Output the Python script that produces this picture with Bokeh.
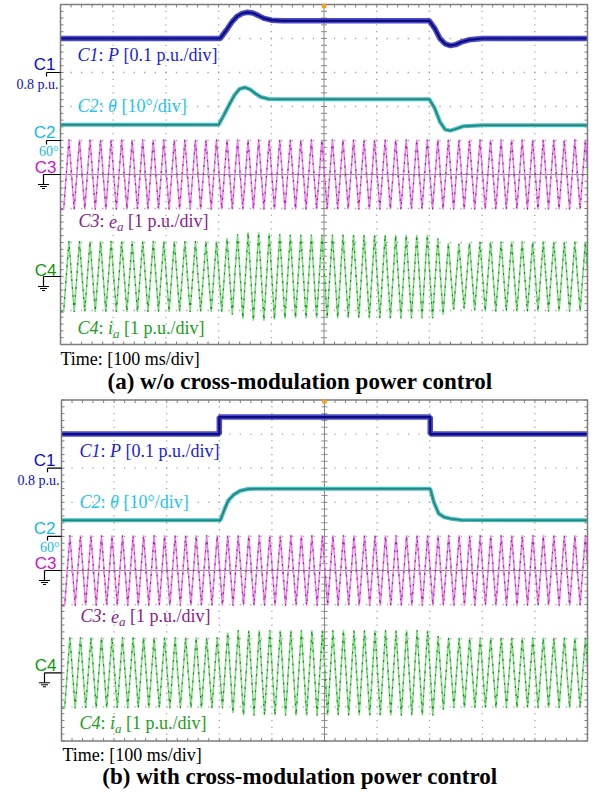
import numpy as np
from bokeh.plotting import figure
from bokeh.layouts import column
from bokeh.models import Label, Range1d
from bokeh.embed import file_html
from bokeh.resources import INLINE

# ---------------- data ----------------
GRID_T_MS = [0, 100, 200, 300, 400, 500, 600, 700, 800, 900, 1000]   # 100 ms/div
GRID_Y_DIV = [-5, -4, -3, -2, -1, 0, 1, 2, 3, 4, 5]                  # screen divisions
MINOR_PER_DIV = 5

C1_OFFSET, C1_REF, C1_SCALE = 3, 0.8, 0.1     # P: 0.8 p.u. at +3 div, 0.1 p.u./div
C2_OFFSET, C2_REF, C2_SCALE = 1, 60.0, 10.0   # theta: 60 deg at +1 div, 10 deg/div
C3_OFFSET, C3_SCALE = 0, 1.0                  # e_a: 1 p.u./div
C4_OFFSET, C4_SCALE = -3, 1.0                 # i_a: 1 p.u./div

AC_FIRST_PEAK_MS = 16
AC_PERIOD_MS = 20

# panel (a): w/o cross-modulation power control
a_P_t = [0, 303, 315, 325, 335, 345, 355, 365, 375, 385, 400, 420,
         700, 710, 720, 730, 740, 750, 760, 775, 800, 1000]
a_P = [0.900, 0.900, 0.925, 0.948, 0.965, 0.974, 0.977, 0.975, 0.968, 0.960, 0.954, 0.952,
       0.952, 0.930, 0.900, 0.884, 0.879, 0.882, 0.889, 0.896, 0.900, 0.900]
a_th_t = [0, 300, 310, 320, 330, 340, 350, 360, 370, 380, 395, 420,
          700, 710, 720, 730, 740, 750, 765, 800, 1000]
a_th = [64.6, 64.6, 67.5, 70.5, 73.3, 75.2, 75.6, 75.0, 73.8, 72.8, 72.2, 72.1,
        72.1, 69.5, 65.5, 63.2, 62.9, 63.4, 64.2, 64.5, 64.5]
a_ea_amp = [1.03, 1.03, 1.03, 1.03, 1.03, 1.03, 1.03, 1.03, 1.03, 1.03,
            1.03, 1.03, 1.03, 1.03, 1.03, 1.03, 1.03, 1.03, 1.03, 1.03,
            1.03, 1.03, 1.03, 1.03, 1.03, 1.03, 1.03, 1.03, 1.03, 1.03,
            1.03, 1.03, 1.03, 1.03, 1.03, 1.03, 1.03, 1.03, 1.03, 1.03,
            1.03, 1.03, 1.03, 1.03, 1.03, 1.03, 1.03, 1.03, 1.03, 1.03]
a_ia_amp = [1.04, 1.04, 1.04, 1.04, 1.04, 1.04, 1.04, 1.04, 1.04, 1.04,
            1.04, 1.04, 1.04, 1.04, 1.04, 1.12, 1.24, 1.30, 1.30, 1.27,
            1.24, 1.23, 1.23, 1.23, 1.23, 1.23, 1.23, 1.23, 1.23, 1.23,
            1.23, 1.23, 1.23, 1.23, 1.23, 1.12, 0.98, 0.96, 1.00, 1.03,
            1.03, 1.03, 1.03, 1.03, 1.03, 1.03, 1.03, 1.03, 1.03, 1.03]

# panel (b): with cross-modulation power control
b_P_t = [0, 300, 300, 701, 701, 1000]
b_P = [0.900, 0.900, 0.950, 0.950, 0.900, 0.900]
b_th_t = [0, 302, 310, 317, 328, 340, 355, 375, 701, 708, 717, 728, 740, 760, 1000]
b_th = [64.7, 64.7, 68.0, 70.5, 72.3, 73.4, 73.9, 74.0, 74.0, 70.0, 66.7, 65.6, 65.2, 64.8, 64.7]
b_ea_amp = [1.03, 1.03, 1.03, 1.03, 1.03, 1.03, 1.03, 1.03, 1.03, 1.03,
            1.03, 1.03, 1.03, 1.03, 1.03, 1.03, 1.03, 1.03, 1.03, 1.03,
            1.03, 1.03, 1.03, 1.03, 1.03, 1.03, 1.03, 1.03, 1.03, 1.03,
            1.03, 1.03, 1.03, 1.03, 1.03, 1.03, 1.03, 1.03, 1.03, 1.03,
            1.03, 1.03, 1.03, 1.03, 1.03, 1.03, 1.03, 1.03, 1.03, 1.03]
b_ia_amp = [1.04, 1.04, 1.04, 1.04, 1.04, 1.04, 1.04, 1.04, 1.04, 1.04,
            1.04, 1.04, 1.04, 1.04, 1.04, 1.18, 1.25, 1.25, 1.25, 1.25,
            1.25, 1.25, 1.25, 1.25, 1.25, 1.25, 1.25, 1.25, 1.25, 1.25,
            1.25, 1.25, 1.25, 1.25, 1.25, 1.08, 1.03, 1.03, 1.03, 1.03,
            1.03, 1.03, 1.03, 1.03, 1.03, 1.03, 1.03, 1.03, 1.03, 1.03]

# ---------------- styling ----------------
SERIF = "Liberation Serif"
SANS = "Liberation Sans"
COL_C1, COL_C1_TXT = "#0c0cc4", "#1c1cdc"
COL_C2, COL_C2_TXT = "#18b8e4", "#26c4ee"
COL_C3, COL_C3_TXT = "#cc12cc", "#8c1c8c"
COL_C4, COL_C4_TXT = "#0a980a", "#20a020"
GRID_COL = "#a4a4a4"
FRAME_COL = "#7c7c7c"
BASELINE_FIX = 0.29   # em; compensates where the renderer puts the alphabetic baseline

W = 597
H_PANEL = 396

TNR_R = {' ': 250, '(': 333, ')': 333, '-': 333, '.': 250, '/': 278, ':': 278, '[': 333,
         ']': 333, '°': 400, 'a': 444, 'b': 500, 'c': 444, 'd': 500, 'e': 444, 'i': 278,
         'l': 278, 'm': 778, 'n': 500, 'o': 500, 'p': 500, 'r': 333, 's': 389, 't': 278,
         'u': 500, 'v': 500, 'w': 722, 'C': 667, 'P': 556, 'T': 611}
TNR_I = {'C': 667, 'P': 611, 'e': 444, 'i': 278, 'a': 500, 'θ': 500}


def text_width(s, size, italic=False):
    tab = TNR_I if italic else TNR_R
    return sum(tab.get(ch, TNR_R.get(ch, 500)) for ch in s) * size / 1000.0


class Pan:
    def __init__(self, x0, sx, y0, sy):
        self.x0, self.sx, self.y0, self.sy = x0, sx, y0, sy

    def tx(self, px):
        return (px - self.x0) / self.sx

    def ty(self, py):
        return (self.y0 - py) / self.sy


def ac_path(amps, offset, scale):
    ts = [AC_FIRST_PEAK_MS - AC_PERIOD_MS / 2]
    vs = [offset - amps[0] / scale]
    for k, a in enumerate(amps):
        tp = AC_FIRST_PEAK_MS + k * AC_PERIOD_MS
        ts += [tp, tp + AC_PERIOD_MS / 2]
        vs += [offset + a / scale, offset - a / scale]
    ts = np.array(ts, float)
    vs = np.array(vs, float)
    lo, hi = GRID_T_MS[0], GRID_T_MS[-1]
    inside = (ts > lo) & (ts < hi)
    t_out = np.concatenate([[lo], ts[inside], [hi]])
    v_out = np.concatenate([[np.interp(lo, ts, vs)], vs[inside], [np.interp(hi, ts, vs)]])
    return t_out, v_out


def label(p, pan, x_px, base_px, text, font=SERIF, size=18, color="black", style="normal", align="left"):
    p.add_layout(Label(x=pan.tx(x_px), y=pan.ty(base_px - BASELINE_FIX * size), text=text,
                       text_font=font, text_font_size=f"{size}px",
                       text_font_style=style, text_color=color, text_align=align,
                       text_baseline="alphabetic"))


def rich(p, pan, x_px, base_px, pieces, color, size=18):
    x = x_px
    for txt, st in pieces:
        italic = "i" in st
        sub = "s" in st
        fs = round(size * 0.72, 1) if sub else size
        dy = 4 if sub else 0
        if txt.strip():
            label(p, pan, x, base_px + dy, txt, size=fs, color=color,
                  style="italic" if italic else "normal")
        x += text_width(txt, fs, italic)


def make_panel(pan, P_t, P, th_t, th, ea_amp, ia_amp, lay, title):
    p = figure(width=W, height=H_PANEL, output_backend="svg", toolbar_location=None,
               x_range=Range1d(pan.tx(0), pan.tx(W)), y_range=Range1d(pan.ty(H_PANEL), pan.ty(0)),
               x_axis_type=None, y_axis_type=None, min_border=0, outline_line_color=None)
    p.background_fill_color = "white"
    p.border_fill_color = "white"

    t0, t1 = GRID_T_MS[0], GRID_T_MS[-1]
    y0, y1 = GRID_Y_DIV[0], GRID_Y_DIV[-1]
    tc = GRID_T_MS[len(GRID_T_MS) // 2]
    yc = GRID_Y_DIV[len(GRID_Y_DIV) // 2]
    minor_t = np.linspace(t0, t1, (len(GRID_T_MS) - 1) * MINOR_PER_DIV + 1)
    minor_y = np.linspace(y0, y1, (len(GRID_Y_DIV) - 1) * MINOR_PER_DIV + 1)

    # dotted grid
    gx, gy = [], []
    for yv in GRID_Y_DIV[1:-1]:
        if yv != yc:
            gx += list(minor_t)
            gy += [yv] * len(minor_t)
    for tv in GRID_T_MS[1:-1]:
        if tv != tc:
            gx += [tv] * len(minor_y)
            gy += list(minor_y)
    p.scatter(gx, gy, marker="square", size=1.3, color=GRID_COL, line_color=None)

    # centre axes with minor ticks
    p.segment(x0=[t0, tc], y0=[yc, y0], x1=[t1, tc], y1=[yc, y1], line_color="#8a8a8a", line_width=1)
    tl_y = 3 / pan.sy
    tl_x = 3 / pan.sx
    p.segment(x0=minor_t, y0=yc - tl_y, x1=minor_t, y1=yc + tl_y, line_color="#8a8a8a", line_width=1)
    p.segment(x0=tc - tl_x, y0=minor_y, x1=tc + tl_x, y1=minor_y, line_color="#8a8a8a", line_width=1)
    # border ticks
    p.segment(x0=minor_t, y0=y0, x1=minor_t, y1=y0 + tl_y, line_color=FRAME_COL, line_width=1)
    p.segment(x0=minor_t, y0=y1, x1=minor_t, y1=y1 - tl_y, line_color=FRAME_COL, line_width=1)
    p.segment(x0=t0, y0=minor_y, x1=t0 + tl_x, y1=minor_y, line_color=FRAME_COL, line_width=1)
    p.segment(x0=t1, y0=minor_y, x1=t1 - tl_x, y1=minor_y, line_color=FRAME_COL, line_width=1)

    # C3 e_a
    et, ev = ac_path(ea_amp, C3_OFFSET, C3_SCALE)
    p.line(et, ev, line_color="#e884e8", line_width=1.6)
    p.line(et, ev, line_color="#a01aa0", line_width=1.1, line_dash="2 6")
    # C4 i_a
    it, iv = ac_path(ia_amp, C4_OFFSET, C4_SCALE)
    p.line(it, iv, line_color="#80dc80", line_width=1.6)
    p.line(it, iv, line_color="#12861a", line_width=1.1, line_dash="2 6")
    # C2 theta
    thy = C2_OFFSET + (np.array(th) - C2_REF) / C2_SCALE
    p.line(th_t, thy, line_color="#3cc0c0", line_width=4.0)
    p.line(th_t, thy, line_color="#2c7e78", line_width=1.5)
    # C1 P
    py = C1_OFFSET + (np.array(P) - C1_REF) / C1_SCALE
    p.line(P_t, py, line_color="#2a2abc", line_width=5.5, line_alpha=0.85)
    p.line(P_t, py, line_color="#0c0c80", line_width=2.2)

    # frame
    p.quad(left=t0, right=t1, bottom=y0, top=y1, fill_color=None, line_color=FRAME_COL, line_width=1.5)
    # trigger marker
    p.scatter([tc], [y1 - 1.5 / pan.sy], marker="circle", size=5, color="#f2a12a", line_color=None)

    # channel markers (outside the frame)
    xl = pan.tx(lay["mk_left"])
    v4 = 4 / pan.sy
    for off in (C1_OFFSET, C2_OFFSET):
        p.segment(x0=[xl, xl], y0=[off, off], x1=[t0, xl], y1=[off, off - v4], line_color="black", line_width=1.2)
    xg = pan.tx(lay["gnd_x"])
    for off in (C3_OFFSET, C4_OFFSET):
        d10 = 10 / pan.sy
        p.segment(x0=[xg, xg], y0=[off, off], x1=[t0, xg], y1=[off, off - d10], line_color="black", line_width=1.2)
        for k, half in enumerate((5.5, 3.5, 1.5)):
            yy = off - d10 - 2 * k / pan.sy
            p.segment(x0=[xg - half / pan.sx], y0=[yy], x1=[xg + half / pan.sx], y1=[yy], line_color="black", line_width=1)

    # channel tags
    label(p, pan, lay["c_right"], lay["c1"], "C1", font=SANS, size=17, color=COL_C1, align="right")
    label(p, pan, lay["v_right"], lay["v1"], "0.8 p.u.", size=14, color=COL_C1, align="right")
    label(p, pan, lay["c_right"], lay["c2"], "C2", font=SANS, size=17, color=COL_C2, align="right")
    label(p, pan, lay["v_right"], lay["v2"], "60°", size=14, color=COL_C2, align="right")
    label(p, pan, lay["c_right"] + 1, lay["c3"], "C3", font=SANS, size=17, color=COL_C3, align="right")
    label(p, pan, lay["c_right"] + 1, lay["c4"], "C4", font=SANS, size=17, color=COL_C4, align="right")

    # channel descriptions
    rich(p, pan, lay["lab_x"], lay["l1"],
         [("C1", "i"), (":", "r"), (" ", "r"), ("P", "i"), (" ", "r"), ("[0.1 p.u./div]", "r")], COL_C1_TXT)
    rich(p, pan, lay["lab_x"], lay["l2"],
         [("C2", "i"), (":", "r"), (" ", "r"), ("θ", "i"), (" ", "r"), ("[10°/div]", "r")], COL_C2_TXT)
    rich(p, pan, lay["lab_x"] + 1, lay["l3"],
         [("C3", "i"), (":", "r"), (" ", "r"), ("e", "i"), ("a", "is"), (" ", "r"), ("[1 p.u./div]", "r")], COL_C3_TXT)
    rich(p, pan, lay["lab_x"], lay["l4"],
         [("C4", "i"), (":", "r"), (" ", "r"), ("i", "i"), ("a", "is"), (" ", "r"), ("[1 p.u./div]", "r")], COL_C4_TXT)

    label(p, pan, lay["time_x"], lay["time"], "Time: [100 ms/div]", size=18, color="black")
    label(p, pan, W / 2 + 1, lay["title"], title, size=23, color="black", style="bold", align="center")
    return p


lay_a = dict(mk_left=46, gnd_x=43, c_right=55, v_right=58, c1=69, v1=88, c2=137, v2=155, c3=172, c4=275,
             lab_x=77, l1=60, l2=111, l3=226, l4=333, time_x=60, time=364, title=388)
lay_b = dict(mk_left=47, gnd_x=44, c_right=55, v_right=59, c1=69, v1=88, c2=137, v2=155, c3=172, c4=274,
             lab_x=79, l1=60, l2=111, l3=225, l4=332, time_x=62, time=364, title=387)

pa = make_panel(Pan(60, 0.527, 174, 34.0), a_P_t, a_P, a_th_t, a_th, a_ea_amp, a_ia_amp, lay_a,
                "(a) w/o cross-modulation power control")
pb = make_panel(Pan(61, 0.526, 174, 34.1), b_P_t, b_P, b_th_t, b_th, b_ea_amp, b_ia_amp, lay_b,
                "(b) with cross-modulation power control")

root = column(pa, pb, spacing=0)

open("out.html", "w").write(file_html(root, INLINE))
